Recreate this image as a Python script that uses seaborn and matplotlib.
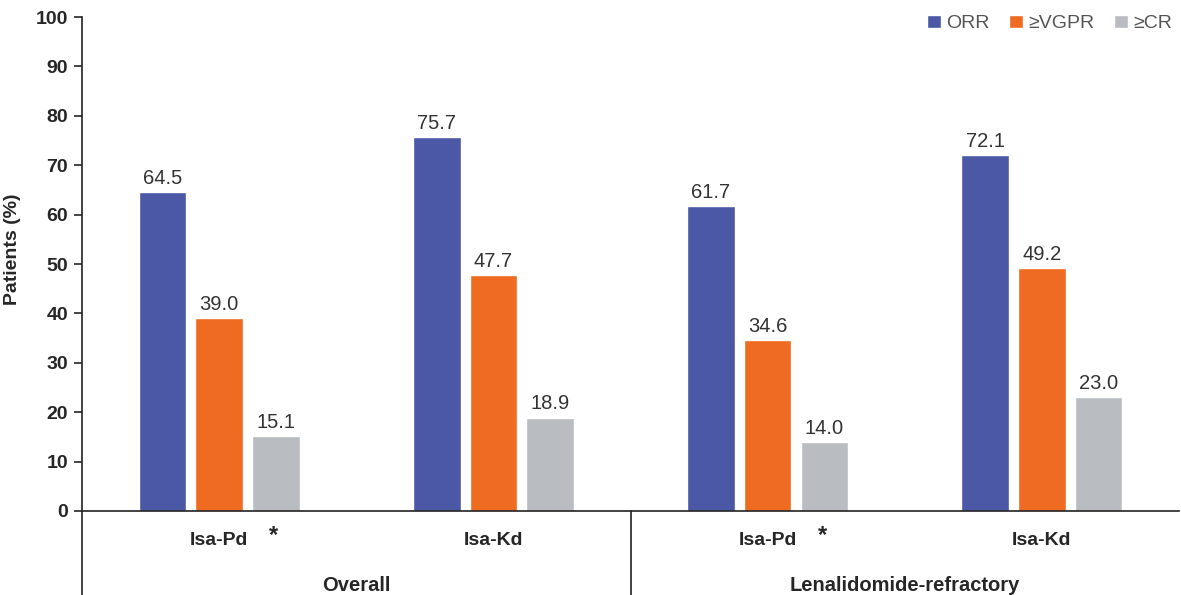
import pandas as pd
import numpy as np
import matplotlib.pyplot as plt
import seaborn as sns
from matplotlib.lines import Line2D

# --- data ---
regimens = ["Isa-Pd", "Isa-Kd", "Isa-Pd ", "Isa-Kd "]
tick_labels = ["Isa-Pd", "Isa-Kd", "Isa-Pd", "Isa-Kd"]
populations = ["Overall", "Lenalidomide-refractory"]
responses = ["ORR", "≥VGPR", "≥CR"]
orr = [64.5, 75.7, 61.7, 72.1]
vgpr = [39.0, 47.7, 34.6, 49.2]
cr = [15.1, 18.9, 14.0, 23.0]
starred = [True, False, True, False]

colors = ["#4a58a6", "#ee6b21", "#b9bcc1"]

df = pd.DataFrame({
    "regimen": regimens * 3,
    "response": np.repeat(responses, len(regimens)),
    "value": orr + vgpr + cr,
})

sns.set_style("white")
plt.rcParams["font.family"] = ["Liberation Sans", "DejaVu Sans"]

fig = plt.figure(figsize=(11.81, 5.95), dpi=100)
ax = fig.add_axes([0.0694, 0.1412, 0.929, 0.8302])

sns.barplot(data=df, x="regimen", y="value", hue="response", hue_order=responses,
            palette=colors, width=0.62, gap=0.16, ax=ax, saturation=1, legend=True)

# value labels
for cont in ax.containers:
    ax.bar_label(cont, fmt="%.1f", padding=3, fontsize=14.5, color="#333333")

ax.set_ylim(0, 100)
ax.set_xlim(-0.5, 3.5)
ax.set_yticks(range(0, 101, 10))
ax.tick_params(axis="y", labelsize=14, length=6, width=1.2, direction="out", left=True, pad=4)
for t in ax.get_yticklabels():
    t.set_fontweight("bold")
ax.set_xticks(range(len(regimens)))
ax.set_xticklabels(tick_labels, fontsize=14, fontweight="bold")
ax.tick_params(axis="x", length=0, pad=15)
ax.set_xlabel("")
ax.set_ylabel("Patients (%)", fontsize=14, fontweight="bold")
ax.yaxis.set_label_coords(-0.056, 0.53)

sns.despine(ax=ax, top=True, right=True)
ax.spines["left"].set_color("#222222")
ax.spines["bottom"].set_color("#222222")
ax.spines["left"].set_linewidth(1.2)
ax.spines["bottom"].set_linewidth(1.2)

# asterisks next to Isa-Pd
for i, s in enumerate(starred):
    if s:
        ax.annotate("*", xy=(i, 0), xycoords=("data", "axes fraction"),
                    xytext=(36, -18), textcoords="offset points",
                    ha="left", va="center", fontsize=17, fontweight="bold")

# table-like grid below the axis
trans = ax.get_xaxis_transform()
for xv in [-0.5, 1.5]:
    ax.add_line(Line2D([xv, xv], [0, -0.175], transform=trans, color="#222222",
                       lw=1.2, clip_on=False))
for k, name in enumerate(populations):
    ax.text(2 * k + 0.5, -0.15, name, transform=trans, ha="center", va="center",
            fontsize=14.5, fontweight="bold")

# legend
handles, labels = ax.get_legend_handles_labels()
ax.legend(handles, labels, loc="upper right", bbox_to_anchor=(1.01, 1.04), ncol=3,
          frameon=False, fontsize=14, handlelength=0.7, handleheight=0.7,
          handletextpad=0.3, columnspacing=1.0, labelcolor="#555555")

plt.savefig("out.png", dpi=100)
